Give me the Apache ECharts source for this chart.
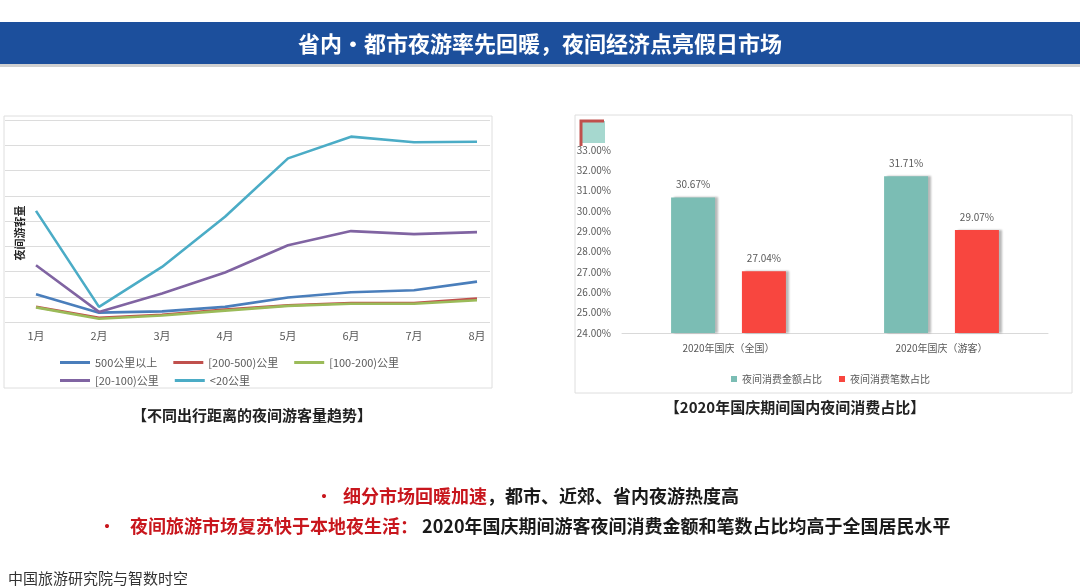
<!DOCTYPE html>
<html><head><meta charset="utf-8">
<script src="https://cdn.jsdelivr.net/npm/echarts@6/dist/echarts.min.js"></script>
<style>html,body{margin:0;padding:0;background:#fff}#c{width:1080px;height:588px}</style>
</head><body><div id="c"></div>
<script>
// ---- data ----
const months = ['1月','2月','3月','4月','5月','6月','7月','8月'];
const lineNames = ['500公里以上','[200-500)公里','[100-200)公里','[20-100)公里','<20公里'];
const s500 = [1.10, 0.37, 0.42, 0.60, 0.97, 1.18, 1.26, 1.60];
const s200_500 = [0.60, 0.17, 0.29, 0.49, 0.66, 0.75, 0.75, 0.93];
const s100_200 = [0.58, 0.13, 0.26, 0.45, 0.64, 0.72, 0.72, 0.86];
const s20_100 = [2.25, 0.40, 1.13, 1.96, 3.04, 3.60, 3.48, 3.56];
const sLt20 = [4.40, 0.60, 2.18, 4.17, 6.48, 7.34, 7.12, 7.14];

const barCats = ['2020年国庆（全国）','2020年国庆（游客）'];
const barNames = ['夜间消费金额占比','夜间消费笔数占比'];
const amountShare = [30.67, 31.71];
const countShare = [27.04, 29.07];

// ---- styles ----
const FONT = '"Noto Sans CJK SC","Noto Sans",sans-serif';
const lineColors = ['#4a7ebb','#c0504d','#9bbb59','#8064a2','#4bacc6'];
const lineData = [s500, s200_500, s100_200, s20_100, sLt20];
const barColors = ['#7bbdb4','#f8463f'];

const chart = echarts.init(document.getElementById('c'), null, {renderer:'canvas'});

const lineSeries = lineNames.map((n,i)=>({
  name:n, type:'line', xAxisIndex:1, yAxisIndex:1, data:lineData[i],
  symbol:'none', smooth:false, lineStyle:{width:2.6,color:lineColors[i]}, itemStyle:{color:lineColors[i]}
}));

const barSeries = barNames.map((n,i)=>({
  name:n, type:'bar', xAxisIndex:2, yAxisIndex:2, data:[amountShare,countShare][i],
  barWidth:44, barGap:'61%',
  itemStyle:{color:barColors[i], shadowColor:'rgba(0,0,0,0.28)', shadowOffsetX:3, shadowBlur:2},
  label:{show:true, position:'top', distance:8, color:'#595959', fontSize:10, fontFamily:FONT,
    formatter:p=>p.value.toFixed(2)+'%'}
}));

const option = {
  backgroundColor:'#ffffff',
  animation:false,
  textStyle:{fontFamily:FONT},
  grid:[
    {left:5, right:590, top:120, bottom:266},
    {left:36, right:603, top:120, bottom:266},
    {left:622, right:32, top:150, bottom:255}
  ],
  xAxis:[
    {gridIndex:0, type:'value', min:0, max:1, show:false},
    {gridIndex:1, type:'category', data:months, boundaryGap:false,
      axisLine:{show:false}, axisTick:{show:false},
      axisLabel:{color:'#595959', fontSize:11, margin:8, fontFamily:FONT}},
    {gridIndex:2, type:'category', data:barCats,
      axisLine:{lineStyle:{color:'#d9d9d9'}}, axisTick:{show:false},
      axisLabel:{color:'#595959', fontSize:10, margin:10, fontFamily:FONT}}
  ],
  yAxis:[
    {gridIndex:0, type:'value', min:0, max:8, interval:1,
      axisLine:{show:false}, axisTick:{show:false}, axisLabel:{show:false},
      splitLine:{lineStyle:{color:'#dcdcdc', width:1}}},
    {gridIndex:1, type:'value', min:0, max:8, interval:1, show:false, splitLine:{show:false}},
    {gridIndex:2, type:'value', min:24, max:33, interval:1,
      axisLine:{show:false}, axisTick:{show:false}, splitLine:{show:false},
      axisLabel:{color:'#595959', fontSize:10, margin:11, fontFamily:FONT, formatter:v=>v.toFixed(2)+'%'}}
  ],
  legend:[
    {data:lineNames.slice(0,3), left:60, top:357, padding:0, icon:'rect', itemWidth:30, itemHeight:3, itemGap:16,
      textStyle:{color:'#595959', fontSize:11, fontFamily:FONT}},
    {data:lineNames.slice(3), left:60, top:375, padding:0, icon:'rect', itemWidth:30, itemHeight:3, itemGap:16,
      textStyle:{color:'#595959', fontSize:11, fontFamily:FONT}},
    {data:barNames, left:726, top:369, icon:'rect', itemWidth:6, itemHeight:6, itemGap:17,
      textStyle:{color:'#595959', fontSize:10, fontFamily:FONT}}
  ],
  series:[...lineSeries, ...barSeries],
  graphic:[
    {type:'rect', shape:{x:0,y:64,width:1080,height:3}, style:{fill:'#d0d0d0'}, silent:true},
    {type:'rect', shape:{x:0,y:22,width:1080,height:42}, style:{fill:'#1c4f9c'}, silent:true},
    {type:'text', x:540, y:44, style:{text:'省内•都市夜游率先回暖，夜间经济点亮假日市场', fill:'#ffffff',
      font:'bold 22px '+FONT, align:'center', verticalAlign:'middle'}, silent:true},
    {type:'rect', shape:{x:4,y:116,width:488,height:272}, style:{fill:'none', stroke:'#dedede', lineWidth:1}, silent:true, z:-1},
    {type:'rect', shape:{x:575,y:115,width:497,height:278}, style:{fill:'none', stroke:'#dedede', lineWidth:1}, silent:true, z:-1},
    {type:'rect', shape:{x:580,y:121,width:25,height:22}, style:{fill:'#a6d8cf'}, silent:true},
    {type:'polyline', shape:{points:[[581,146],[581,121],[604,121]]}, style:{stroke:'#c0504d', lineWidth:3, fill:'none'}, silent:true},
    {type:'text', x:20, y:233, rotation:Math.PI/2, style:{text:'夜间游客量', fill:'#262626',
      font:'bold 11px '+FONT, align:'center', verticalAlign:'middle'}, silent:true},
    {type:'text', x:252, y:415, style:{text:'【不同出行距离的夜间游客量趋势】', fill:'#222',
      font:'bold 15px '+FONT, align:'center', verticalAlign:'middle'}, silent:true},
    {type:'text', x:795, y:407, style:{text:'【2020年国庆期间国内夜间消费占比】', fill:'#222',
      font:'bold 15px '+FONT, align:'center', verticalAlign:'middle'}, silent:true},
    {type:'text', x:316, y:496, style:{
      text:'{b|•}{r|细分市场回暖加速}{k|，都市、近郊、省内夜游热度高}',
      verticalAlign:'middle', align:'left',
      rich:{
        b:{fill:'#c8161d', font:'bold 16px '+FONT, width:27},
        r:{fill:'#c8161d', font:'bold 18px '+FONT},
        k:{fill:'#1a1a1a', font:'bold 18px '+FONT}
      }}, silent:true},
    {type:'text', x:99, y:526, style:{
      text:'{b|•}{r|夜间旅游市场复苏快于本地夜生活：}{k| 2020年国庆期间游客夜间消费金额和笔数占比均高于全国居民水平}',
      verticalAlign:'middle', align:'left',
      rich:{
        b:{fill:'#c8161d', font:'bold 16px '+FONT, width:31},
        r:{fill:'#c8161d', font:'bold 18px '+FONT},
        k:{fill:'#1a1a1a', font:'bold 18px '+FONT}
      }}, silent:true},
    {type:'text', x:8, y:578, style:{text:'中国旅游研究院与智数时空', fill:'#333',
      font:'15px '+FONT, align:'left', verticalAlign:'middle'}, silent:true}
  ]
};
chart.setOption(option);
</script></body></html>
